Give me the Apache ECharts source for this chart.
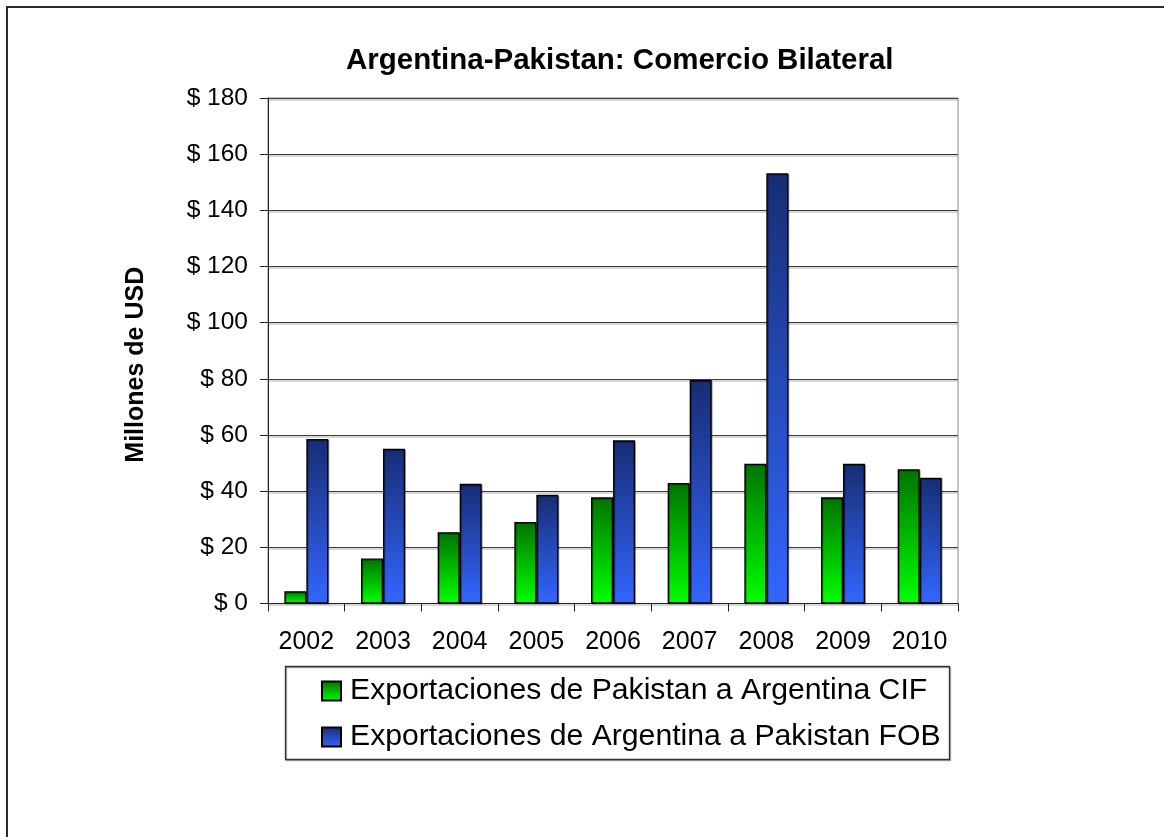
<!DOCTYPE html>
<html>
<head>
<meta charset="utf-8">
<script src="https://cdn.jsdelivr.net/npm/echarts@6/dist/echarts.min.js"></script>
<style>
  html, body { margin: 0; padding: 0; background: #fff; }
  #chart { width: 1164px; height: 837px; }
</style>
</head>
<body>
<div id="chart"></div>
<script>
// datos (millones de USD)
const years = ['2002', '2003', '2004', '2005', '2006', '2007', '2008', '2009', '2010'];
const expPakistanCIF = [4.4, 16.0, 25.4, 29.0, 37.8, 42.9, 49.8, 37.8, 47.8];
const expArgentinaFOB = [58.6, 55.1, 42.6, 38.7, 58.1, 79.6, 153.2, 49.8, 44.8];
const serieNames = ['Exportaciones de Pakistan a Argentina CIF', 'Exportaciones de Argentina a Pakistan FOB'];

const font = 'Liberation Sans, Arial, sans-serif';

const grad = (top, bottom) => new echarts.graphic.LinearGradient(0, 0, 0, 1, [
  { offset: 0, color: top },
  { offset: 1, color: bottom }
]);

const barStyle = (top, bottom) => ({
  color: grad(top, bottom),
  borderColor: '#000',
  borderWidth: 1.3,
  shadowColor: 'rgba(0,0,0,0.35)',
  shadowOffsetX: 1,
  shadowOffsetY: 1,
  shadowBlur: 0
});

const myChart = echarts.init(document.getElementById('chart'), null, { renderer: 'canvas' });

const option = {
  animation: false,
  backgroundColor: '#fff',
  textStyle: { fontFamily: font, color: '#000' },
  title: {
    text: 'Argentina-Pakistan: Comercio Bilateral',
    left: 341,
    top: 41,
    textStyle: { fontFamily: font, fontSize: 29.5, fontWeight: 'bold', color: '#000' }
  },
  grid: {
    left: 268,
    right: 206,
    top: 98,
    bottom: 233.5,
    show: true,
    borderColor: '#888',
    borderWidth: 1
  },
  legend: {
    orient: 'vertical',
    left: 316,
    top: 671,
    itemWidth: 19,
    itemHeight: 19,
    itemGap: 16,
    padding: 5,
    icon: 'rect',
    data: serieNames,
    textStyle: { fontFamily: font, fontSize: 30.2, lineHeight: 30, color: '#000', padding: [0, 0, 0, 4] }
  },
  xAxis: {
    type: 'category',
    data: years,
    axisLine: { lineStyle: { color: '#222', width: 1 } },
    axisTick: { show: true, length: 8, lineStyle: { color: '#222' } },
    axisLabel: { fontFamily: font, fontSize: 25, color: '#000', margin: 26 }
  },
  yAxis: {
    type: 'value',
    min: 0,
    max: 180,
    interval: 20,
    name: 'Millones de USD',
    nameLocation: 'middle',
    nameGap: 119,
    nameRotate: 90,
    nameTextStyle: { fontFamily: font, fontSize: 25, fontWeight: 'bold', color: '#000', padding: [0, 28, 0, 0] },
    axisLine: { show: true, lineStyle: { color: '#222', width: 1 } },
    axisTick: { show: true, length: 8, lineStyle: { color: '#222' } },
    axisLabel: {
      fontFamily: font, fontSize: 24.5, color: '#000', margin: 20,
      formatter: v => '$ ' + v
    },
    splitLine: {
      show: true,
      lineStyle: { color: '#3c3c3c', width: 1, shadowColor: '#b0b0b0', shadowOffsetY: 1.5 }
    }
  },
  graphic: [
    {
      type: 'rect',
      shape: { x: 7, y: 7, width: 1300, height: 1000 },
      style: { fill: 'none', stroke: '#2a2a2a', lineWidth: 2 },
      silent: true
    },
    {
      type: 'rect',
      shape: { x: 285.5, y: 666.5, width: 664, height: 93 },
      style: { fill: 'none', stroke: '#333', lineWidth: 1.3, shadowColor: '#aaa', shadowOffsetX: 1, shadowOffsetY: 1 },
      silent: true
    }
  ],
  series: [
    {
      name: serieNames[0],
      type: 'bar',
      data: expPakistanCIF,
      barGap: '0%',
      barCategoryGap: '42.6%',
      itemStyle: barStyle('#007400', '#00ff00')
    },
    {
      name: serieNames[1],
      type: 'bar',
      data: expArgentinaFOB,
      barGap: '0%',
      barCategoryGap: '42.6%',
      itemStyle: barStyle('#172d74', '#3366ff')
    }
  ]
};

myChart.setOption(option);
</script>
</body>
</html>
